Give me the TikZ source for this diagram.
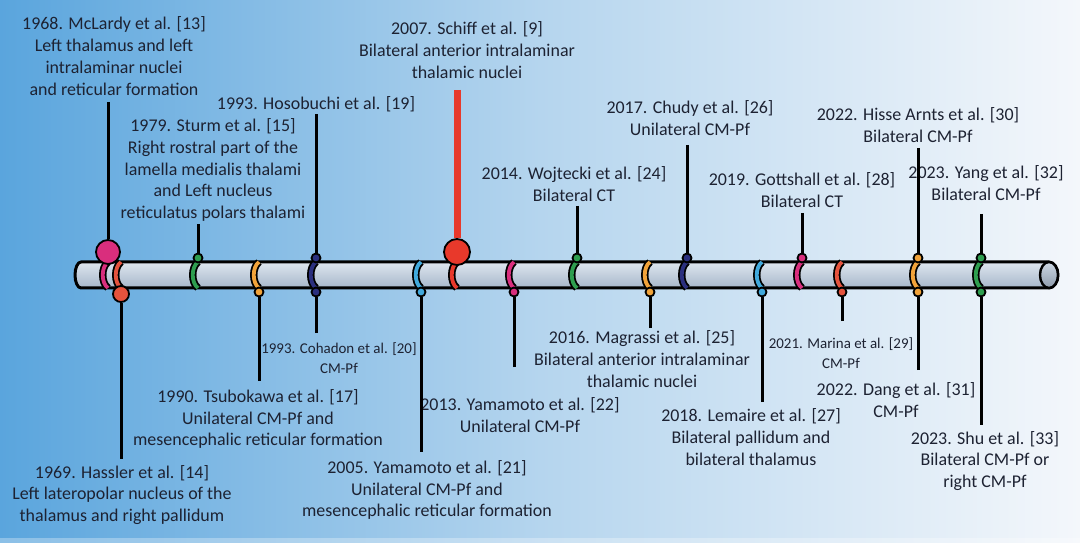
\documentclass[tikz,border=0pt]{standalone}
\usepackage{fontspec}
\setmainfont{Carlito}
\usetikzlibrary{shapes}

\definecolor{bgleft}{HTML}{5AA5DD}
\definecolor{bgmid}{HTML}{B5D5EE}
\definecolor{bgright}{HTML}{F4F7FB}
\definecolor{bartop}{HTML}{DEE6EF}
\definecolor{barbot}{HTML}{A7B7CA}
\definecolor{textcol}{HTML}{1D2232}
\definecolor{cmag}{HTML}{D92E7D}
\definecolor{cred}{HTML}{E5533D}
\definecolor{cschiff}{HTML}{E8392B}
\definecolor{cgreen}{HTML}{2E9E4F}
\definecolor{corange}{HTML}{F2A33A}
\definecolor{cnavy}{HTML}{2B2F7E}
\definecolor{cblue}{HTML}{41A9DC}

\tikzset{
  lbl/.style={align=center, inner sep=1bp, text=textcol, font=\fontsize{9}{11}\selectfont},
  lblsmall/.style={lbl, font=\fontsize{7.5}{10}\selectfont},
  conn/.style={draw=black, line width=1.5bp},
  redconn/.style={draw=cschiff, line width=3.5bp},
  dot/.style={circle, draw=black, line width=0.9bp, inner sep=0pt, minimum size=4.5bp},
  ring/.style={draw=black, line width=0.9bp, double distance=1.9bp},
}

\begin{document}
\begin{tikzpicture}[x=0.5bp,y=-0.5bp,line join=bevel]
\useasboundingbox (0,0) rectangle (1080,543);

% Background
\shade[left color=bgleft, right color=bgright, middle color=bgmid] (0,0) rectangle (1080,543);
\fill[white, opacity=0.3] (0,538) rectangle (1080,543);

% Timeline bar
\shadedraw[top color=bartop, bottom color=barbot, draw=black, line width=1.5bp]
  (81,262) -- (1049,262) .. controls (1054,262) and (1058,267.8) .. (1058,275)
  .. controls (1058,282.2) and (1054,288) .. (1049,288) -- (81,288)
  .. controls (77.7,288) and (75,282.2) .. (75,275)
  .. controls (75,267.8) and (77.7,262) .. (81,262) -- cycle;
\shadedraw[top color=bartop!70!barbot, bottom color=barbot!85!black, draw=black, line width=1.2bp]
  (1049,275) ellipse (4.5bp and 6.5bp);

% Rings
\draw[ring, double=cmag] (108,262) .. controls (101,267) and (101,283) .. (108,288);
\draw[ring, double=cred] (121,262) .. controls (114,267) and (114,283) .. (121,288);
\draw[ring, double=cgreen] (198,262) .. controls (191,267) and (191,283) .. (198,288);
\draw[ring, double=corange] (259,262) .. controls (252,267) and (252,283) .. (259,288);
\draw[ring, double=cnavy] (316,262) .. controls (309,267) and (309,283) .. (316,288);
\draw[ring, double=cblue] (421,262) .. controls (414,267) and (414,283) .. (421,288);
\draw[ring, double=cschiff] (457,262) .. controls (450,267) and (450,283) .. (457,288);
\draw[ring, double=cmag] (514,262) .. controls (507,267) and (507,283) .. (514,288);
\draw[ring, double=cgreen] (577,262) .. controls (570,267) and (570,283) .. (577,288);
\draw[ring, double=corange] (650,262) .. controls (643,267) and (643,283) .. (650,288);
\draw[ring, double=cnavy] (687,262) .. controls (680,267) and (680,283) .. (687,288);
\draw[ring, double=cblue] (762,262) .. controls (755,267) and (755,283) .. (762,288);
\draw[ring, double=cmag] (802,262) .. controls (795,267) and (795,283) .. (802,288);
\draw[ring, double=cred] (842,262) .. controls (835,267) and (835,283) .. (842,288);
\draw[ring, double=corange] (918,262) .. controls (911,267) and (911,283) .. (918,288);
\draw[ring, double=cgreen] (981,262) .. controls (974,267) and (974,283) .. (981,288);

% Node: dots
\node[dot, fill=cmag, minimum size=12bp] (mclardy-dot) at (108,252) {};
\node[dot, fill=cred, minimum size=8bp] (hassler-dot) at (121,294) {};
\node[dot, fill=cgreen] (sturm-dot) at (198,258) {};
\node[dot, fill=corange] (tsubokawa-dot) at (259,292) {};
\node[dot, fill=cnavy] (hosobuchi-dot) at (316,258) {};
\node[dot, fill=cnavy] (cohadon-dot) at (316,292) {};
\node[dot, fill=cblue] (yamamotoA-dot) at (421,292) {};
\node[dot, fill=cschiff, minimum size=13bp] (schiff-dot) at (457,252) {};
\node[dot, fill=cmag] (yamamotoB-dot) at (514,292) {};
\node[dot, fill=cgreen] (wojtecki-dot) at (577,258) {};
\node[dot, fill=corange] (magrassi-dot) at (650,292) {};
\node[dot, fill=cnavy] (chudy-dot) at (687,258) {};
\node[dot, fill=cblue] (lemaire-dot) at (762,292) {};
\node[dot, fill=cmag] (gottshall-dot) at (802,258) {};
\node[dot, fill=cred] (marina-dot) at (842,292) {};
\node[dot, fill=corange] (hisse-dot) at (918,258) {};
\node[dot, fill=corange] (dang-dot) at (918,292) {};
\node[dot, fill=cgreen] (yang-dot) at (981,258) {};
\node[dot, fill=cgreen] (shu-dot) at (981,292) {};

% Node: labels above
\node[lbl] (mclardy) at (114,56) {1968. McLardy et al. [13]\\Left thalamus and left\\intralaminar nuclei\\and reticular formation};
\node[lbl] (sturm) at (213,170) {1979. Sturm et al. [15]\\Right rostral part of the\\lamella medialis thalami\\and Left nucleus\\reticulatus polars thalami};
\node[lbl] (hosobuchi) at (316,104) {1993. Hosobuchi et al. [19]};
\node[lbl] (schiff) at (467,50) {2007. Schiff et al. [9]\\Bilateral anterior intralaminar\\thalamic nuclei};
\node[lbl] (wojtecki) at (574,184) {2014. Wojtecki et al. [24]\\Bilateral CT};
\node[lbl] (chudy) at (690,118) {2017. Chudy et al. [26]\\Unilateral CM-Pf};
\node[lbl] (gottshall) at (802,190) {2019. Gottshall et al. [28]\\Bilateral CT};
\node[lbl] (hisse) at (918,125) {2022. Hisse Arnts et al. [30]\\Bilateral CM-Pf};
\node[lbl] (yang) at (986,183) {2023. Yang et al. [32]\\Bilateral CM-Pf};

% Node: labels below
\node[lbl] (hassler) at (122,495) {1969. Hassler et al. [14]\\Left lateropolar nucleus of the\\thalamus and right pallidum};
\node[lbl] (tsubokawa) at (258,419) {1990. Tsubokawa et al. [17]\\Unilateral CM-Pf and\\mesencephalic reticular formation};
\node[lblsmall] (cohadon) at (339,358) {1993. Cohadon et al. [20]\\CM-Pf};
\node[lbl] (yamamotoA) at (427,490) {2005. Yamamoto et al. [21]\\Unilateral CM-Pf and\\mesencephalic reticular formation};
\node[lbl] (yamamotoB) at (520,415) {2013. Yamamoto et al. [22]\\Unilateral CM-Pf};
\node[lbl] (magrassi) at (642,359) {2016. Magrassi et al. [25]\\Bilateral anterior intralaminar\\thalamic nuclei};
\node[lbl] (lemaire) at (751,437) {2018. Lemaire et al. [27]\\Bilateral pallidum and\\bilateral thalamus};
\node[lblsmall] (marina) at (841,353) {2021. Marina et al. [29]\\CM-Pf};
\node[lbl] (dang) at (896,400) {2022. Dang et al. [31]\\CM-Pf};
\node[lbl] (shu) at (985,461) {2023. Shu et al. [33]\\Bilateral CM-Pf or\\right CM-Pf};

% Edge: labels above -> dots
\draw[conn, shorten <=2bp] (mclardy.south -| mclardy-dot) -- (mclardy-dot.north);
\draw[conn] (sturm.south -| sturm-dot) -- (sturm-dot.north);
\draw[conn] (hosobuchi.south -| hosobuchi-dot) -- (hosobuchi-dot.north);
\draw[redconn, shorten <=4.5bp] (schiff.south -| schiff-dot) -- (schiff-dot.north);
\draw[conn, shorten <=1bp] (wojtecki.south -| wojtecki-dot) -- (wojtecki-dot.north);
\draw[conn, shorten <=3.5bp] (chudy.south -| chudy-dot) -- (chudy-dot.north);
\draw[conn, shorten <=1.5bp] (gottshall.south -| gottshall-dot) -- (gottshall-dot.north);
\draw[conn, shorten <=1.5bp] (hisse.south -| hisse-dot) -- (hisse-dot.north);
\draw[conn, shorten <=5.5bp] (yang.south -| yang-dot) -- (yang-dot.north);

% Edge: labels below -> dots
\draw[conn, shorten <=2bp] (hassler.north -| hassler-dot) -- (hassler-dot.south);
\draw[conn, shorten <=3bp] (tsubokawa.north -| tsubokawa-dot) -- (tsubokawa-dot.south);
\draw[conn, shorten <=3.5bp] (cohadon.north -| cohadon-dot) -- (cohadon-dot.south);
\draw[conn, shorten <=3bp] (yamamotoA.north -| yamamotoA-dot) -- (yamamotoA-dot.south);
\draw[conn, shorten <=14bp] (yamamotoB.north -| yamamotoB-dot) -- (yamamotoB-dot.south);
\draw[conn] (magrassi.north -| magrassi-dot) -- (magrassi-dot.south);
\draw[conn, shorten <=2bp] (lemaire.north -| lemaire-dot) -- (lemaire-dot.south);
\draw[conn, shorten <=7bp] (marina.north -| marina-dot) -- (marina-dot.south);
\draw[conn, shorten <=5bp] (dang.north -| dang-dot) -- (dang-dot.south);
\draw[conn, shorten <=2bp] (shu.north -| shu-dot) -- (shu-dot.south);

\end{tikzpicture}
\end{document}
